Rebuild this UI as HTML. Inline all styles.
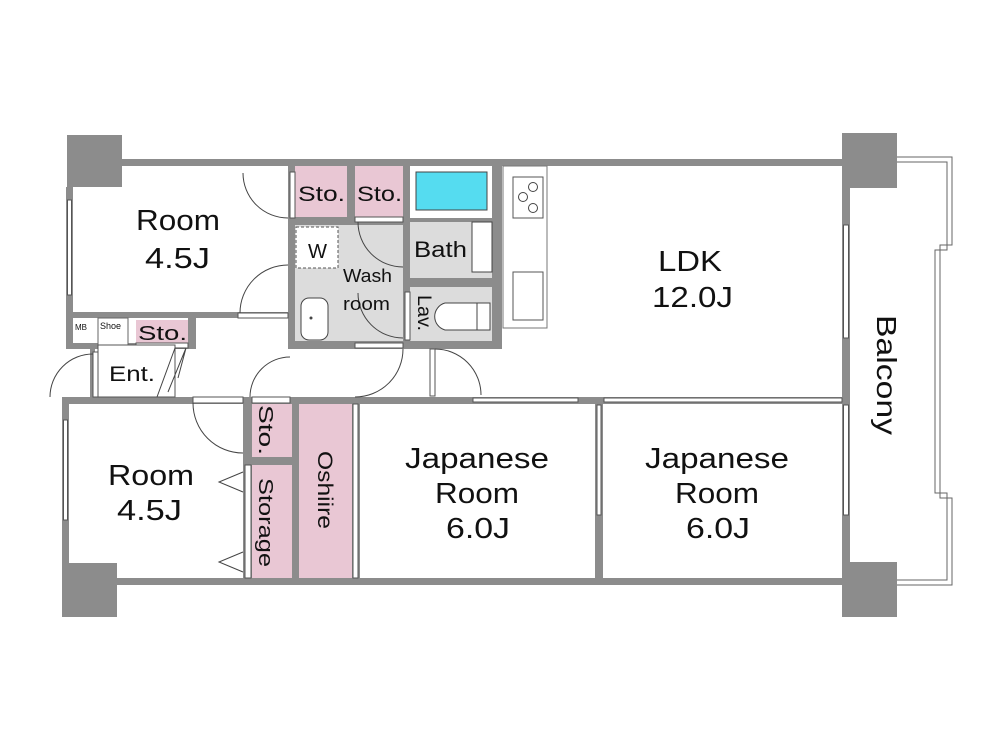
<!DOCTYPE html>
<html><head><meta charset="utf-8"><style>
html,body{margin:0;padding:0;background:#fff;}
svg{display:block;}
text{font-family:"Liberation Sans",sans-serif;fill:#111;}
</style></head><body>
<svg width="1000" height="750" viewBox="0 0 1000 750" xmlns="http://www.w3.org/2000/svg">
<rect width="1000" height="750" fill="#fff"/>
<!-- balcony -->
<path d="M897,157 H952 V245 H940 V498 H952 V585 H897" fill="none" stroke="#666" stroke-width="1"/>
<path d="M897,162 H947 V250 H935 V493 H947 V580 H897" fill="none" stroke="#666" stroke-width="1"/>
<g fill="#8c8c8c">
<rect x="67" y="135" width="55" height="52"/>
<rect x="842" y="133" width="55" height="55"/>
<rect x="62" y="563" width="55" height="54"/>
<rect x="842" y="562" width="55" height="55"/>
<rect x="122" y="159" width="720" height="7"/>
<rect x="66" y="187" width="7" height="160"/>
<rect x="117" y="578" width="725" height="7"/>
<rect x="842" y="188" width="8" height="374"/>
<rect x="62" y="397" width="7" height="166"/>
<rect x="66" y="312" width="224" height="6"/>
<rect x="66" y="343" width="130" height="6"/>
<rect x="188" y="316" width="8" height="33"/>
<rect x="288" y="159" width="214" height="190"/>
<rect x="496" y="166" width="6" height="180"/>
<rect x="62" y="397" width="780" height="7"/>
<rect x="243" y="397" width="9" height="181"/>
<rect x="292" y="397" width="7" height="181"/>
<rect x="352" y="397" width="8" height="181"/>
<rect x="595" y="397" width="8" height="181"/>
<rect x="252" y="457" width="40" height="8"/>
<rect x="90" y="349" width="5" height="50"/>
</g>
<rect x="295" y="166" width="52" height="51" fill="#e9c7d4"/>
<rect x="355" y="166" width="48" height="51" fill="#e9c7d4"/>
<rect x="410" y="166" width="82" height="52" fill="#fff"/>
<rect x="416" y="172" width="71" height="38" fill="#55dcf0" stroke="#444" stroke-width="1"/>
<rect x="410" y="222" width="82" height="56" fill="#dcdcdc"/>
<rect x="472" y="222" width="20" height="50" fill="#fff" stroke="#444" stroke-width="1"/>
<rect x="295" y="225" width="108" height="116" fill="#dcdcdc"/>
<rect x="410" y="287" width="82" height="54" fill="#dcdcdc"/>
<rect x="301" y="298" width="27" height="42" rx="8" fill="#fff" stroke="#444"/>
<circle cx="311" cy="318" r="1.5" fill="#444"/>
<rect x="296" y="227" width="42" height="41" fill="#fff" stroke="#555" stroke-dasharray="3,2"/>
<path d="M445,303 h32 v27 h-32 a14,14 0 0 1 0,-27z M477,303 h13 v27 h-13" fill="#fff" stroke="#444"/>
<rect x="503" y="166" width="44" height="162" fill="#fff" stroke="#777"/>
<rect x="513" y="177" width="30" height="41" fill="#fff" stroke="#555"/>
<circle cx="533" cy="187" r="4.5" fill="none" stroke="#444"/>
<circle cx="523" cy="197" r="4.5" fill="none" stroke="#444"/>
<circle cx="533" cy="208" r="4.5" fill="none" stroke="#444"/>
<rect x="513" y="272" width="30" height="48" fill="#fff" stroke="#555"/>
<rect x="73" y="318" width="18" height="25" fill="#fff"/>
<rect x="98" y="318" width="30" height="27" fill="#fff" stroke="#666"/>
<rect x="136" y="320" width="52" height="23" fill="#e9c7d4"/>
<rect x="136" y="343" width="52" height="5" fill="#fff" stroke="#555"/>
<rect x="98" y="345" width="77" height="52" fill="#fff" stroke="#555"/>
<path d="M175,348 L157,397 M186,348 L168,392 M175,348 L186,348 M186,348 L178,378" stroke="#444" fill="none"/>
<rect x="252" y="404" width="40" height="53" fill="#e9c7d4"/>
<rect x="252" y="465" width="40" height="113" fill="#e9c7d4"/>
<rect x="299" y="404" width="53" height="174" fill="#e9c7d4"/>
<rect x="245" y="465" width="6" height="113" fill="#fff" stroke="#555"/>
<path d="M243,472 L219,482 L243,492 M243,552 L219,562 L243,572" fill="none" stroke="#444"/>
<rect x="353" y="404" width="5" height="174" fill="#fff" stroke="#555"/>
<g fill="#fff" stroke="#555" stroke-width="1">
<rect x="67.5" y="200" width="4" height="95"/>
<rect x="63.5" y="420" width="4" height="100"/>
<rect x="843.5" y="225" width="5" height="113"/>
<rect x="843.5" y="405" width="5" height="110"/>
<rect x="597" y="405" width="4" height="110"/>
<rect x="473" y="398" width="105" height="4"/>
<rect x="604" y="398" width="238" height="4"/>
<rect x="193" y="397" width="50" height="6"/>
<rect x="252" y="397" width="38" height="6"/>
<rect x="290" y="172" width="5" height="46"/>
<rect x="238" y="313" width="50" height="5"/>
<rect x="355" y="217" width="48" height="5"/>
<rect x="405" y="292" width="5" height="48"/>
<rect x="355" y="343" width="48" height="5"/>
<rect x="430" y="349" width="5" height="47"/>
<rect x="93" y="352" width="5" height="45"/>
</g>
<g fill="none" stroke="#444" stroke-width="1">
<path d="M243,173 A45,45 0 0 0 288,218"/>
<path d="M240,313 A48,48 0 0 1 288,265"/>
<path d="M358,222 A45,45 0 0 0 403,267"/>
<path d="M358,293 A45,45 0 0 0 403,338"/>
<path d="M403,349 A48,48 0 0 1 355,397"/>
<path d="M435,349 A46,46 0 0 1 481,395"/>
<path d="M250,397 A40,40 0 0 1 290,357"/>
<path d="M193,403 A50,50 0 0 0 243,453"/>
<path d="M50,397 A43,43 0 0 1 93,354"/>
</g>
<g lengthAdjust="spacingAndGlyphs">
<text x="136" y="230" font-size="29" textLength="84" lengthAdjust="spacingAndGlyphs">Room</text>
<text x="145" y="268" font-size="29" textLength="65" lengthAdjust="spacingAndGlyphs">4.5J</text>
<text x="298" y="201" font-size="21" textLength="47" lengthAdjust="spacingAndGlyphs">Sto.</text>
<text x="357" y="201" font-size="21" textLength="45" lengthAdjust="spacingAndGlyphs">Sto.</text>
<text x="414" y="257" font-size="22" textLength="53" lengthAdjust="spacingAndGlyphs">Bath</text>
<text x="308" y="258" font-size="20" textLength="19" lengthAdjust="spacingAndGlyphs">W</text>
<text x="343" y="282" font-size="18" textLength="49" lengthAdjust="spacingAndGlyphs">Wash</text>
<text x="343" y="310" font-size="18" textLength="47" lengthAdjust="spacingAndGlyphs">room</text>
<text x="138" y="340" font-size="20" textLength="49" lengthAdjust="spacingAndGlyphs">Sto.</text>
<text x="75" y="330" font-size="8">MB</text>
<text x="100" y="329" font-size="9">Shoe</text>
<text x="109" y="381" font-size="21" textLength="46" lengthAdjust="spacingAndGlyphs">Ent.</text>
<text x="658" y="271" font-size="29" textLength="64" lengthAdjust="spacingAndGlyphs">LDK</text>
<text x="652" y="307" font-size="29" textLength="81" lengthAdjust="spacingAndGlyphs">12.0J</text>
<text x="108" y="485" font-size="29" textLength="86" lengthAdjust="spacingAndGlyphs">Room</text>
<text x="117" y="520" font-size="29" textLength="65" lengthAdjust="spacingAndGlyphs">4.5J</text>
<text x="405" y="468" font-size="29" textLength="144" lengthAdjust="spacingAndGlyphs">Japanese</text>
<text x="435" y="503" font-size="29" textLength="84" lengthAdjust="spacingAndGlyphs">Room</text>
<text x="446" y="538" font-size="29" textLength="64" lengthAdjust="spacingAndGlyphs">6.0J</text>
<text x="645" y="468" font-size="29" textLength="144" lengthAdjust="spacingAndGlyphs">Japanese</text>
<text x="675" y="503" font-size="29" textLength="84" lengthAdjust="spacingAndGlyphs">Room</text>
<text x="686" y="538" font-size="29" textLength="64" lengthAdjust="spacingAndGlyphs">6.0J</text>
</g>
<text transform="translate(418,295) rotate(90)" font-size="19" textLength="36" lengthAdjust="spacingAndGlyphs">Lav.</text>
<text transform="translate(259,405) rotate(90)" font-size="20" textLength="50" lengthAdjust="spacingAndGlyphs">Sto.</text>
<text transform="translate(259,478) rotate(90)" font-size="20" textLength="89" lengthAdjust="spacingAndGlyphs">Storage</text>
<text transform="translate(318,451) rotate(90)" font-size="21" textLength="78" lengthAdjust="spacingAndGlyphs">Oshiire</text>
<text transform="translate(877,315) rotate(90)" font-size="28" textLength="120" lengthAdjust="spacingAndGlyphs">Balcony</text>
</svg>
</body></html>
